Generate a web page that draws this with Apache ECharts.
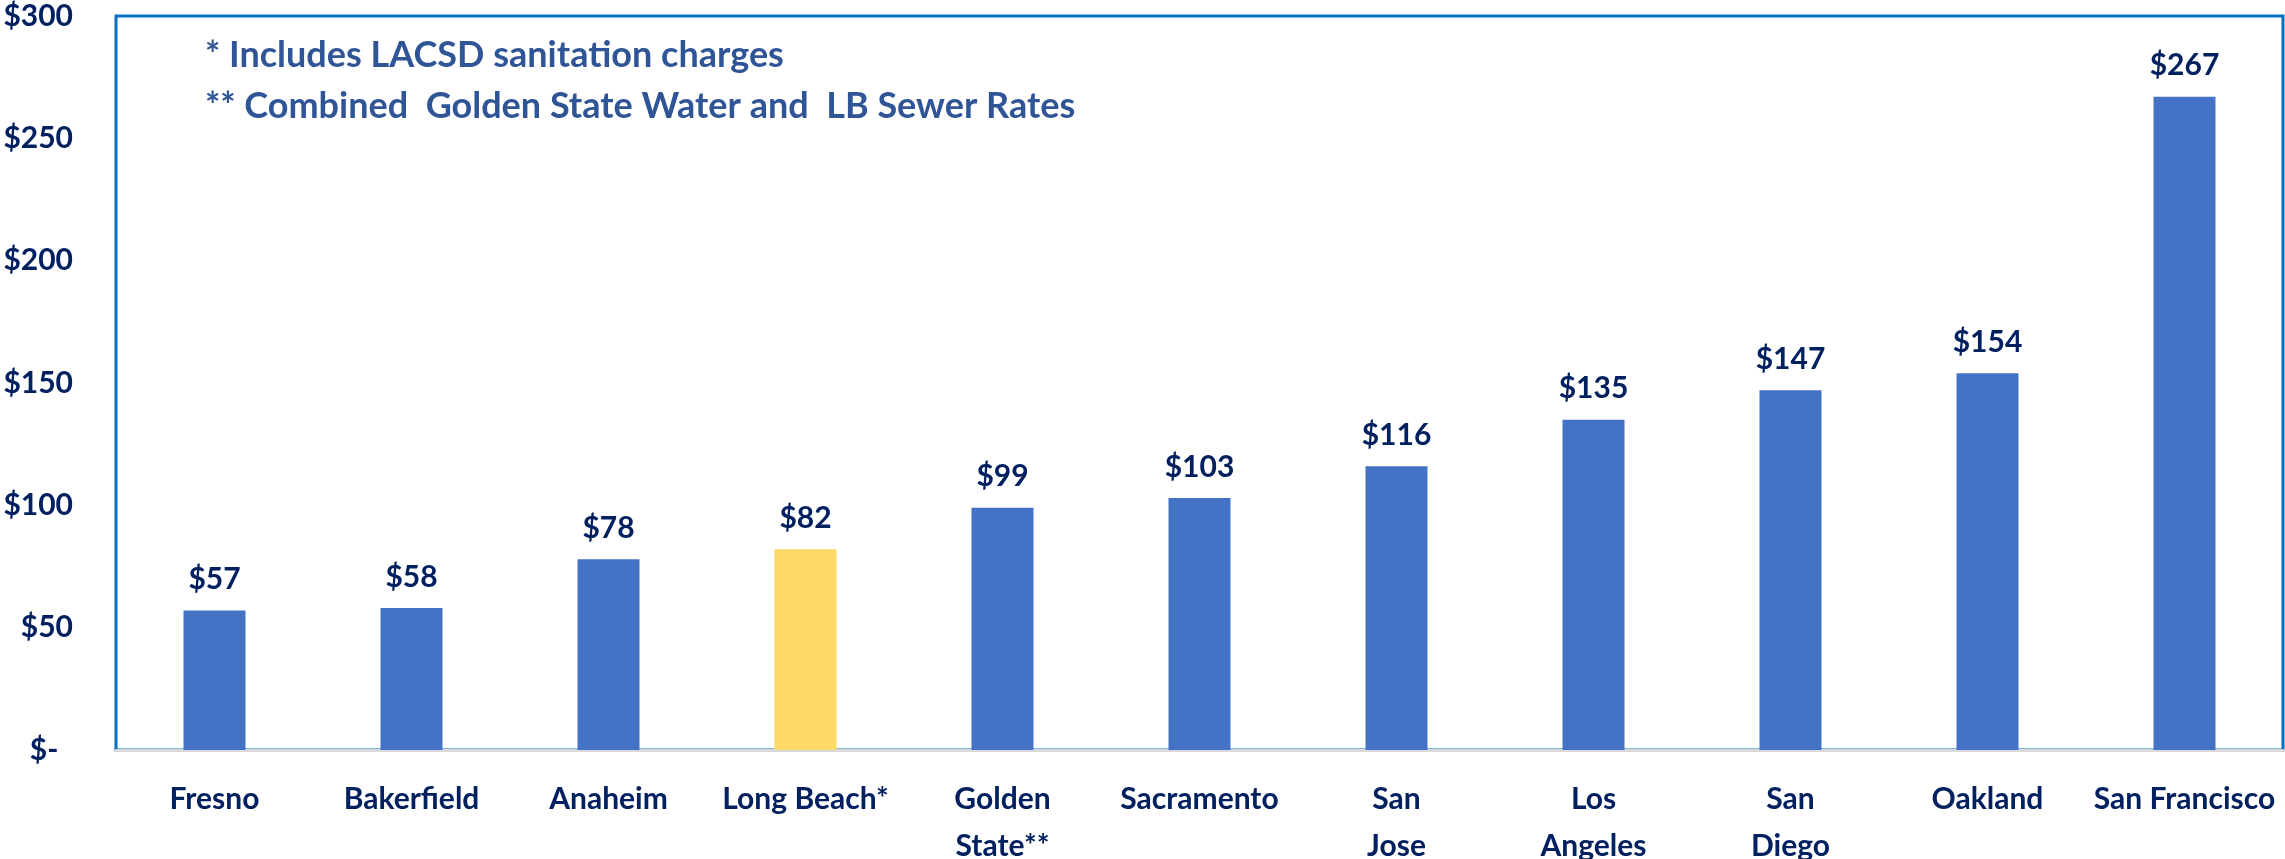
<!DOCTYPE html>
<html>
<head>
<meta charset="utf-8">
<title>Monthly water and sewer bills</title>
<script src="https://cdn.jsdelivr.net/npm/echarts@6/dist/echarts.min.js"></script>
<style>
html, body { margin: 0; padding: 0; background: #fff; }
#chart { width: 2285px; height: 859px; }
</style>
</head>
<body>
<div id="chart"></div>
<script>
// categories and bill amounts
var cities = ['Fresno', 'Bakerfield', 'Anaheim', 'Long Beach*', 'Golden\nState**', 'Sacramento',
    'San\nJose', 'Los\nAngeles', 'San\nDiego', 'Oakland', 'San Francisco'];
var bills = [57, 58, 78, 82, 99, 103, 116, 135, 147, 154, 267];
var highlight = 'Long Beach*';
var notes = ['* Includes LACSD sanitation charges', '** Combined  Golden State Water and  LB Sewer Rates'];

var font = 'Lato';
var navy = '#002060';

var chart = echarts.init(document.getElementById('chart'));

var barData = bills.map(function (v, i) {
    return {
        value: v,
        itemStyle: { color: cities[i] === highlight ? '#FFD966' : '#4472C4' }
    };
});

var option = {
    backgroundColor: '#fff',
    animation: false,
    title: {
        text: notes.join('\n'),
        left: 200,
        top: 25,
        textStyle: {
            color: '#2F5597',
            fontFamily: font,
            fontWeight: 'bold',
            fontSize: 36,
            lineHeight: 51
        }
    },
    grid: {
        left: 116,
        right: 2,
        top: 16,
        bottom: 109,
        outerBoundsMode: 'none',
        show: true,
        borderColor: '#0070C0',
        borderWidth: 3
    },
    xAxis: {
        type: 'category',
        data: cities,
        axisTick: { show: false },
        axisLine: { lineStyle: { color: '#D9D9D9', width: 3 } },
        axisLabel: {
            interval: 0,
            margin: 26,
            color: navy,
            fontFamily: font,
            fontWeight: 'bold',
            fontSize: 30,
            lineHeight: 47
        }
    },
    yAxis: {
        type: 'value',
        min: 0,
        max: 300,
        interval: 50,
        splitLine: { show: false },
        axisLine: { show: false },
        axisTick: { show: false },
        axisLabel: {
            margin: 43,
            color: navy,
            fontFamily: font,
            fontWeight: 'bold',
            fontSize: 30,
            formatter: function (v) {
                return v === 0 ? '$-  ' : '$' + v;
            }
        }
    },
    series: [
        {
            type: 'bar',
            data: barData,
            barWidth: 62,
            label: {
                show: true,
                position: 'top',
                distance: 16,
                color: navy,
                fontFamily: font,
                fontWeight: 'bold',
                fontSize: 30,
                formatter: function (p) {
                    return '$' + p.value;
                }
            }
        }
    ]
};

chart.setOption(option);
window.addEventListener('resize', function () {
    chart.resize();
});
</script>
</body>
</html>
